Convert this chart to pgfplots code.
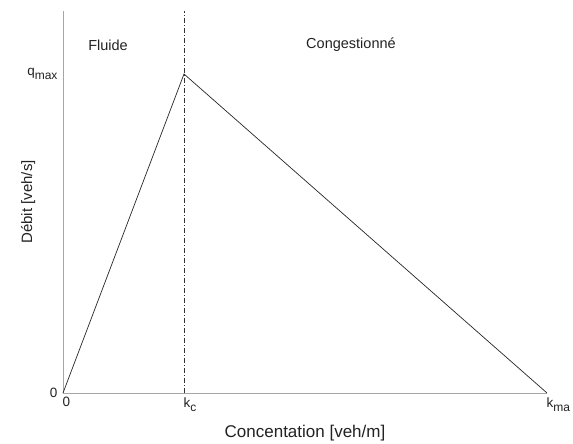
\documentclass[border=0pt]{standalone}
\usepackage{pgfplots}
\pgfplotsset{compat=1.18}
\usepackage{fontspec}
\setmainfont{Liberation Sans}
\definecolor{txt}{HTML}{222222}
\newcommand\sub[1]{\raisebox{-0.55ex}{\fontsize{12}{13}\selectfont #1}}
\begin{document}
\begin{tikzpicture}[x=1pt,y=1pt]
\path[use as bounding box] (-63,-51) rectangle (510,393);
\begin{axis}[
  at={(0,0)}, anchor=origin,
  scale only axis, width=484pt, height=382pt,
  xmin=0, xmax=1, ymin=0, ymax=1.1975,
  axis x line*=bottom, axis y line*=left,
  axis line style={draw=gray!70, line width=0.6pt, -},
  xtick={0,0.25,1}, xticklabels={0, k\sub{c}, k\sub{ma}},
  ytick={0,1}, yticklabels={0, q\sub{max}},
  major tick length=0pt,
  tick label style={font=\fontsize{13.5}{15}\selectfont, text=txt},
  xticklabel style={anchor=north west, xshift=-4pt, yshift=-1pt},
  yticklabel style={anchor=east, xshift=-2pt},
  xlabel={Concentation [veh/m]}, ylabel={Débit [veh/s]},
  xlabel style={font=\fontsize{17}{19}\selectfont, text=txt, at={(axis description cs:0.5,-0.105)}, anchor=center},
  ylabel style={font=\fontsize{15}{17}\selectfont, text=txt, at={(axis description cs:-0.072,0.5)}, anchor=center},
  clip=false,
]
\addplot[black!85, line width=0.7pt] coordinates {(0,0) (0.25,1) (1,0)};
\addplot[black!80, line width=0.6pt, dash pattern=on 5pt off 2pt on 1pt off 2pt] coordinates {(0.25,0) (0.25,1.1975)};
\node[font=\fontsize{14.5}{16}\selectfont, text=txt] at (axis cs:0.093,1.091) {Fluide};
\node[font=\fontsize{14.5}{16}\selectfont, text=txt] at (axis cs:0.595,1.091) {Congestionné};
\end{axis}
\end{tikzpicture}
\end{document}
